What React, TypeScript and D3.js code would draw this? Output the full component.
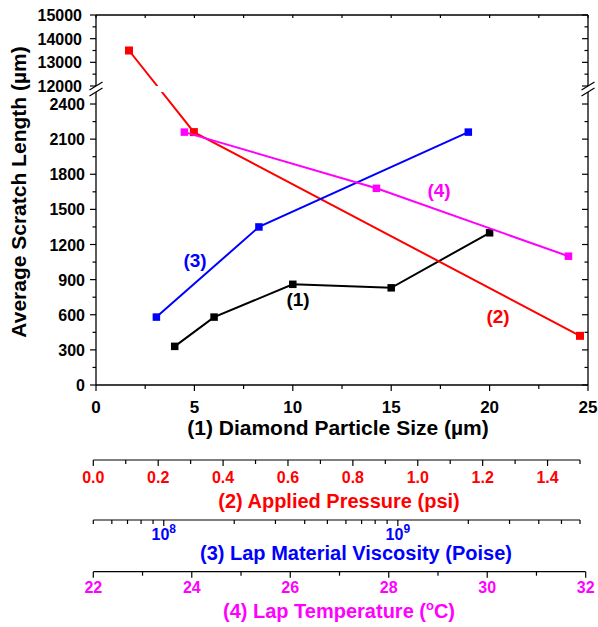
import React from "react";
import * as d3 from "d3";

// Series (1): diamond particle size (µm) vs scratch length (µm)
const diamondSize = [4, 6, 10, 15, 20];
const diamondLength = [330, 580, 860, 830, 1300];
// Series (2): applied pressure (psi)
const pressure = [0.11, 0.31, 1.5];
const pressureLength = [13500, 2160, 420];
// Series (3): lap material viscosity (Poise)
const viscosity = [9.3e7, 2.55e8, 2.0e9];
const viscosityLength = [580, 1350, 2160];
// Series (4): lap temperature (°C)
const temperature = [23.85, 27.75, 31.65];
const temperatureLength = [2160, 1680, 1100];

// Tick values
const yLowMajor = [0, 300, 600, 900, 1200, 1500, 1800, 2100, 2400];
const yHighMajor = [12000, 13000, 14000, 15000];
const xMainMajor = [0, 5, 10, 15, 20, 25];
const pressureMajor = [0, 0.2, 0.4, 0.6, 0.8, 1.0, 1.2, 1.4];
const viscosityMajor = [1e8, 1e9];
const viscosityExp = ["8", "9"];
const temperatureMajor = [22, 24, 26, 28, 30, 32];

const RED = "#ff0000";
const BLUE = "#0000ff";
const MAGENTA = "#ff00ff";
const BLACK = "#000000";
const FONT = "'Liberation Sans', Arial, Helvetica, sans-serif";

const W = 598;
const H = 627;
const LEFT = 96;
const RIGHT = 588;
const TOP = 15;
const BOTTOM = 385;
const BREAK_TOP = 86;
const BREAK_BOTTOM = 92;

const xMain = d3.scaleLinear().domain([0, 25]).range([LEFT, RIGHT]);
const yLow = d3.scaleLinear().domain([0, 2500]).range([BOTTOM, 92.3]);
const yHigh = d3.scaleLinear().domain([12000, 15000]).range([BREAK_TOP, TOP]);
const yAny = (v: number) => (v >= 12000 ? yHigh(v) : yLow(v));

const xPress = d3.scaleLinear().domain([0, 1.5]).range([93.3, 580]);
const xVisc = d3.scaleLog().domain([5e7, 6e9]).range([93.3, 580]);
const xTemp = d3.scaleLinear().domain([22, 32]).range([93.3, 585.7]);

const PRESS_Y = 460;
const VISC_Y = 520;
const TEMP_Y = 571.7;

function range(a: number, b: number, step: number) {
  const out: number[] = [];
  for (let v = a; v <= b + 1e-9; v += step) out.push(+v.toFixed(6));
  return out;
}

type Pt = [number, number];

function Series({ pts, color, size = 7.5 }: { pts: Pt[]; color: string; size?: number }) {
  const line = d3.line<Pt>().x((d) => d[0]).y((d) => d[1]);
  return (
    <g>
      <path d={line(pts) || ""} fill="none" stroke={color} strokeWidth={2} clipPath="url(#breakClip)" />
      {pts.map((p, i) => (
        <rect key={i} x={p[0] - size / 2} y={p[1] - size / 2} width={size} height={size} fill={color} />
      ))}
    </g>
  );
}

function BreakMark({ x }: { x: number }) {
  return (
    <g stroke={BLACK} strokeWidth={1.3}>
      <line x1={x - 6.5} y1={BREAK_TOP + 4} x2={x + 6.5} y2={BREAK_TOP - 4} />
      <line x1={x - 6.5} y1={BREAK_BOTTOM + 4} x2={x + 6.5} y2={BREAK_BOTTOM - 4} />
    </g>
  );
}

export default function App() {
  const s1: Pt[] = diamondSize.map((v, i) => [xMain(v), yAny(diamondLength[i])]);
  const s2: Pt[] = pressure.map((v, i) => [xPress(v), yAny(pressureLength[i])]);
  const s3: Pt[] = viscosity.map((v, i) => [xVisc(v), yAny(viscosityLength[i])]);
  const s4: Pt[] = temperature.map((v, i) => [xTemp(v), yAny(temperatureLength[i])]);

  const yLowAll = range(0, 2400, 150);
  const yHighAll = range(12000, 15000, 500);
  const xMainAll = range(0, 25, 2.5);
  const pressAll = range(0, 1.5, 0.1);
  const viscMinor: number[] = [];
  for (const dec of [1e7, 1e8, 1e9]) {
    for (let k = 1; k <= 9; k++) {
      const v = k * dec;
      if (v >= 5e7 && v <= 6e9 + 1) viscMinor.push(v);
    }
  }
  const tempAll = range(22, 32, 1);

  return (
    <svg
      width={W}
      height={H}
      viewBox={`0 0 ${W} ${H}`}
      style={{ position: "absolute", left: 0, top: 0, background: "#fff" }}
      fontFamily={FONT}
      fontWeight="bold"
    >
      <defs>
        <clipPath id="breakClip">
          <rect x={0} y={0} width={W} height={BREAK_TOP} />
          <rect x={0} y={BREAK_BOTTOM} width={W} height={H - BREAK_BOTTOM} />
        </clipPath>
      </defs>
      <rect width={W} height={H} fill="#fff" />

      {/* frame */}
      <g stroke={BLACK} strokeWidth={1.3} fill="none">
        <line x1={LEFT} y1={TOP} x2={RIGHT} y2={TOP} />
        <line x1={LEFT} y1={BOTTOM} x2={RIGHT} y2={BOTTOM} />
        <line x1={LEFT} y1={TOP} x2={LEFT} y2={BREAK_TOP} />
        <line x1={LEFT} y1={BREAK_BOTTOM} x2={LEFT} y2={BOTTOM} />
        <line x1={RIGHT} y1={TOP} x2={RIGHT} y2={BREAK_TOP} />
        <line x1={RIGHT} y1={BREAK_BOTTOM} x2={RIGHT} y2={BOTTOM} />
      </g>
      <BreakMark x={LEFT} />
      <BreakMark x={RIGHT} />

      {/* left / right / top / bottom ticks */}
      <g stroke={BLACK} strokeWidth={1.2}>
        {yLowAll.map((v) => {
          const major = v % 300 === 0;
          const y = yLow(v);
          return (
            <g key={"yl" + v}>
              <line x1={LEFT - (major ? 6 : 3.5)} x2={LEFT} y1={y} y2={y} />
              <line x1={RIGHT - (major ? 6 : 3.5)} x2={RIGHT} y1={y} y2={y} />
            </g>
          );
        })}
        {yHighAll.map((v) => {
          const major = v % 1000 === 0;
          const y = yHigh(v);
          return (
            <g key={"yh" + v}>
              <line x1={LEFT - (major ? 6 : 3.5)} x2={LEFT} y1={y} y2={y} />
              <line x1={RIGHT - (major ? 6 : 3.5)} x2={RIGHT} y1={y} y2={y} />
            </g>
          );
        })}
        {xMainAll.map((v) => {
          const major = v % 5 === 0;
          const x = xMain(v);
          return (
            <g key={"xm" + v}>
              <line x1={x} x2={x} y1={BOTTOM} y2={BOTTOM + (major ? 6 : 4)} />
              <line x1={x} x2={x} y1={TOP} y2={TOP + 3} />
            </g>
          );
        })}
      </g>

      {/* y tick labels */}
      <g fontSize={16} fill={BLACK} textAnchor="end">
        {yLowMajor.map((v) => (
          <text key={"tl" + v} x={85} y={yLow(v) + 6}>
            {v}
          </text>
        ))}
        {yHighMajor.map((v) => (
          <text key={"th" + v} x={82} y={yHigh(v) + 6}>
            {v}
          </text>
        ))}
      </g>

      {/* main x tick labels */}
      <g fontSize={17} fill={BLACK} textAnchor="middle">
        {xMainMajor.map((v) => (
          <text key={"tx" + v} x={xMain(v)} y={413}>
            {v}
          </text>
        ))}
      </g>

      <text x={338} y={435} fontSize={21} textAnchor="middle" fill={BLACK}>
        (1) Diamond Particle Size (µm)
      </text>
      <text
        transform={`translate(26,192) rotate(-90)`}
        fontSize={21}
        textAnchor="middle"
        fill={BLACK}
      >
        Average Scratch Length (µm)
      </text>

      {/* pressure axis */}
      <g stroke={BLACK} strokeWidth={1.2}>
        <line x1={xPress(0)} x2={xPress(1.5)} y1={PRESS_Y} y2={PRESS_Y} />
        {pressAll.map((v) => {
          const major = Math.round(v * 10) % 2 === 0;
          return (
            <line key={"pt" + v} x1={xPress(v)} x2={xPress(v)} y1={PRESS_Y} y2={PRESS_Y + (major ? 6 : 4)} />
          );
        })}
      </g>
      <g fontSize={16} fill={RED} textAnchor="middle">
        {pressureMajor.map((v) => (
          <text key={"pl" + v} x={xPress(v)} y={483}>
            {v.toFixed(1)}
          </text>
        ))}
      </g>
      <text x={339} y={508} fontSize={20} textAnchor="middle" fill={RED}>
        (2) Applied Pressure (psi)
      </text>

      {/* viscosity axis (log) */}
      <g stroke={BLACK} strokeWidth={1.2}>
        <line x1={xVisc(5e7)} x2={xVisc(6e9)} y1={VISC_Y} y2={VISC_Y} />
        {viscMinor.map((v) => {
          const major = viscosityMajor.some((m) => Math.abs(m - v) < 1);
          return (
            <line key={"vt" + v} x1={xVisc(v)} x2={xVisc(v)} y1={VISC_Y} y2={VISC_Y + (major ? 6 : 4)} />
          );
        })}
      </g>
      <g fill={BLUE} textAnchor="middle">
        {viscosityMajor.map((v, i) => (
          <text key={"vl" + v} x={xVisc(v)} y={540} fontSize={16}>
            10
            <tspan fontSize={12} dy={-7}>
              {viscosityExp[i]}
            </tspan>
          </text>
        ))}
      </g>
      <text x={356} y={560} fontSize={20} textAnchor="middle" fill={BLUE}>
        (3) Lap Material Viscosity (Poise)
      </text>

      {/* temperature axis */}
      <g stroke={BLACK} strokeWidth={1.2}>
        <line x1={xTemp(22)} x2={xTemp(32)} y1={TEMP_Y} y2={TEMP_Y} />
        {tempAll.map((v) => (
          <line key={"tt" + v} x1={xTemp(v)} x2={xTemp(v)} y1={TEMP_Y} y2={TEMP_Y + (v % 2 === 0 ? 6 : 4)} />
        ))}
      </g>
      <g fontSize={16} fill={MAGENTA} textAnchor="middle">
        {temperatureMajor.map((v) => (
          <text key={"tml" + v} x={xTemp(v)} y={593}>
            {v}
          </text>
        ))}
      </g>
      <text x={339} y={618} fontSize={20} textAnchor="middle" fill={MAGENTA}>
        (4) Lap Temperature (
        <tspan fontSize={13} dy={-8}>
          o
        </tspan>
        <tspan dy={8}>C)</tspan>
      </text>

      {/* data */}
      <Series pts={s1} color={BLACK} />
      <Series pts={s2} color={RED} size={8} />
      <Series pts={s3} color={BLUE} />
      <Series pts={s4} color={MAGENTA} />

      {/* series labels */}
      <g fontSize={19} textAnchor="middle">
        <text x={298} y={306} fill={BLACK}>(1)</text>
        <text x={498} y={323} fill={RED}>(2)</text>
        <text x={195} y={267} fill={BLUE}>(3)</text>
        <text x={439} y={197} fill={MAGENTA}>(4)</text>
      </g>
    </svg>
  );
}
